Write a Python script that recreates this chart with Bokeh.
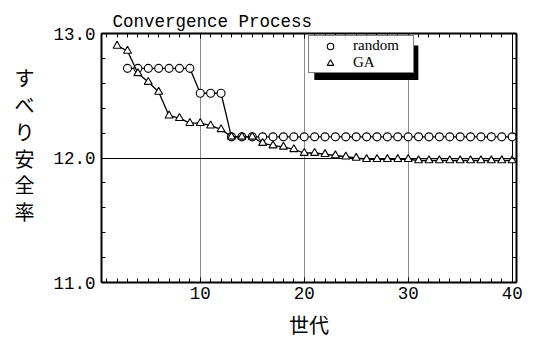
from bokeh.plotting import figure
from bokeh.models import (Range1d, LinearAxis, SingleIntervalTicker, FixedTicker, Grid,
                          Legend, LegendItem, BoxAnnotation, NumeralTickFormatter,
                          CustomJSTickFormatter, Title)
from bokeh.embed import file_html
from bokeh.resources import INLINE

# ---- data ----
gen_random = [3, 4, 5, 6, 7, 8, 9, 10, 11, 12, 13, 14, 15, 16, 17, 18, 19, 20, 21, 22,
              23, 24, 25, 26, 27, 28, 29, 30, 31, 32, 33, 34, 35, 36, 37, 38, 39, 40]
fs_random = [12.72, 12.72, 12.72, 12.72, 12.72, 12.72, 12.72, 12.52, 12.52, 12.52,
             12.17, 12.17, 12.17, 12.17, 12.17, 12.17, 12.17, 12.17, 12.17, 12.17,
             12.17, 12.17, 12.17, 12.17, 12.17, 12.17, 12.17, 12.17, 12.17, 12.17,
             12.17, 12.17, 12.17, 12.17, 12.17, 12.17, 12.17, 12.17]

gen_ga = [2, 3, 4, 5, 6, 7, 8, 9, 10, 11, 12, 13, 14, 15, 16, 17, 18, 19, 20, 21,
          22, 23, 24, 25, 26, 27, 28, 29, 30, 31, 32, 33, 34, 35, 36, 37, 38, 39, 40]
fs_ga = [12.90, 12.86, 12.68, 12.61, 12.53, 12.34, 12.32, 12.28, 12.28, 12.26,
         12.23, 12.17, 12.17, 12.17, 12.12, 12.10, 12.09, 12.07, 12.04, 12.04,
         12.03, 12.02, 12.01, 12.00, 11.99, 11.99, 11.99, 11.99, 11.99, 11.98,
         11.98, 11.98, 11.98, 11.98, 11.98, 11.98, 11.98, 11.98, 11.98]

title_text = "Convergence Process"
x_label = "世代"
y_label = "すべり安全率"
series_names = ["random", "GA"]

MONO = "Liberation Mono"
CJK = "Noto Sans CJK JP"

p = figure(frame_width=415, frame_height=249,
           min_border_left=101, min_border_right=23, min_border_top=33, min_border_bottom=56,
           x_range=Range1d(0.5, 40.42), y_range=Range1d(11.0, 13.0),
           output_backend="svg", toolbar_location=None,
           x_axis_location=None, y_axis_location=None)
p.grid.visible = False
p.background_fill_color = "white"
p.border_fill_color = "white"
p.outline_line_color = None

xt = SingleIntervalTicker(interval=10, num_minor_ticks=10)
yt = SingleIntervalTicker(interval=1, num_minor_ticks=5)

def style_axis(ax, show_labels):
    ax.axis_line_color = "black"
    ax.axis_line_width = 2
    ax.major_tick_in = 5
    ax.major_tick_out = 0
    ax.minor_tick_in = 4
    ax.minor_tick_out = 0
    ax.major_tick_line_color = "black"
    ax.minor_tick_line_color = "black"
    if show_labels:
        ax.major_label_text_font = MONO
        ax.major_label_text_font_size = "17.5px"
        ax.major_label_text_color = "black"
    else:
        ax.formatter = CustomJSTickFormatter(code="return ''")
        ax.major_label_text_font_size = "0px"
        ax.major_label_standoff = 0

xb = LinearAxis(ticker=xt, axis_label=x_label)
style_axis(xb, True)
xb.major_label_standoff = 4
xb.axis_label_text_font = CJK
xb.axis_label_text_font_size = "20px"
xb.axis_label_text_font_style = "normal"
xb.axis_label_text_color = "black"
xb.axis_label_standoff = 8
p.add_layout(xb, "below")

# top mirrored axis first (closest to frame), then the title
xa = LinearAxis(ticker=xt)
style_axis(xa, False)
p.add_layout(xa, "above")

p.add_layout(Title(text=title_text, text_font=MONO, text_font_size="17.5px",
                   text_font_style="normal", text_color="black", align="left",
                   offset=11, standoff=4), "above")

yl = LinearAxis(ticker=yt, formatter=NumeralTickFormatter(format="0.0"),
                axis_label="\n".join(y_label) + "\n")
style_axis(yl, True)
yl.major_label_standoff = 6
yl.axis_label_orientation = "horizontal"
yl.axis_label_text_font = CJK
yl.axis_label_text_font_size = "20px"
yl.axis_label_text_font_style = "normal"
yl.axis_label_text_color = "black"
yl.axis_label_text_line_height = 0.92
yl.axis_label_text_align = "center"
yl.axis_label_standoff = 16
p.add_layout(yl, "left")

yr = LinearAxis(ticker=yt)
style_axis(yr, False)
p.add_layout(yr, "right")

# grid lines
p.add_layout(Grid(dimension=0, ticker=FixedTicker(ticks=[10, 20, 30]),
                  grid_line_color="#8a8a8a", grid_line_width=1))
p.add_layout(Grid(dimension=0, ticker=FixedTicker(ticks=[40]),
                  grid_line_color="black", grid_line_width=1))
p.add_layout(Grid(dimension=1, ticker=FixedTicker(ticks=[12]),
                  grid_line_color="black", grid_line_width=1.2))

# series
p.line(gen_random, fs_random, line_color="black", line_width=1.3)
r_rand = p.scatter(gen_random, fs_random, marker="circle", size=8,
                   fill_color="white", line_color="black", line_width=1.1)
p.line(gen_ga, fs_ga, line_color="black", line_width=1.3)
r_ga = p.scatter(gen_ga, fs_ga, marker="triangle", size=8,
                 fill_color="white", line_color="black", line_width=1.1)

# legend shadow
p.add_layout(BoxAnnotation(left=20.97, right=30.98, top=12.904, bottom=12.627,
                           fill_color="black", fill_alpha=1.0, line_color=None))

legend = Legend(items=[LegendItem(label=series_names[0], renderers=[r_rand]),
                       LegendItem(label=series_names[1], renderers=[r_ga])],
                location=(207, 209), margin=0, padding=1, spacing=0,
                glyph_width=40, glyph_height=16, label_standoff=3,
                label_width=59, label_height=16,
                label_text_font="Liberation Serif", label_text_font_size="15px",
                label_text_color="black",
                border_line_color="black", border_line_width=1.2,
                background_fill_color="white", background_fill_alpha=1.0)
p.add_layout(legend, "center")

open("out.html", "w").write(file_html(p, INLINE))
